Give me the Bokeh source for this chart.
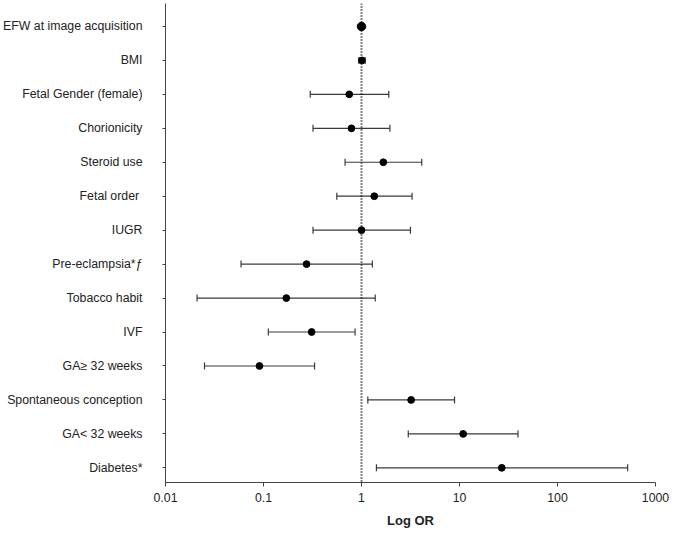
from bokeh.plotting import figure
from bokeh.models import (ColumnDataSource, Whisker, TeeHead, Span, FixedTicker,
                          CustomJSTickFormatter, Range1d)
from bokeh.embed import file_html
from bokeh.resources import INLINE

categories = ["EFW at image acquisition", "BMI", "Fetal Gender (female)", "Chorionicity",
              "Steroid use", "Fetal order ", "IUGR", "Pre-eclampsia*\u0192", "Tobacco habit",
              "IVF", "GA\u2265 32 weeks", "Spontaneous conception", "GA< 32 weeks", "Diabetes*"]
odds_ratio = [1.00, 1.01, 0.75, 0.79, 1.67, 1.35, 1.00, 0.275, 0.171, 0.31, 0.091, 3.21, 10.9, 27.0]
ci_low = [0.99, 0.94, 0.30, 0.32, 0.68, 0.56, 0.32, 0.059, 0.021, 0.112, 0.025, 1.16, 3.0, 1.42]
ci_high = [1.01, 1.09, 1.90, 1.95, 4.12, 3.28, 3.16, 1.29, 1.38, 0.86, 0.332, 8.9, 39.5, 520.0]
x_ticks = [0.01, 0.1, 1, 10, 100, 1000]

n = len(categories)
ypos = [n - i for i in range(n)]
sizes = [8.5 if i == 0 else 6.8 for i in range(n)]

FONT = "Liberation Sans"
INK = "#222222"

p = figure(width=669, height=530, x_axis_type="log",
           x_range=Range1d(0.01, 1000), y_range=Range1d(0.568, 14.676),
           output_backend="svg", toolbar_location=None,
           min_border_left=164, min_border_right=14, min_border_top=3, min_border_bottom=47)
p.outline_line_color = None
p.xgrid.visible = False
p.ygrid.visible = False
p.background_fill_color = "white"
p.border_fill_color = "white"

src = ColumnDataSource(dict(y=ypos, x=odds_ratio, lo=ci_low, hi=ci_high, s=sizes))

w = Whisker(source=src, base="y", lower="lo", upper="hi", dimension="width",
            line_color="#3a3a3a", line_width=1.2,
            lower_head=TeeHead(size=7, line_color="#3a3a3a", line_width=1.2),
            upper_head=TeeHead(size=7, line_color="#3a3a3a", line_width=1.2))
p.add_layout(w)

p.add_layout(Span(location=1, dimension="height", line_color="black",
                  line_width=2, line_dash="1 2"))

p.scatter("x", "y", size="s", source=src, fill_color="black", line_color="black")

# x axis
xa = p.xaxis[0]
xa.ticker = FixedTicker(ticks=x_ticks, minor_ticks=[])
xa.formatter = CustomJSTickFormatter(code="return String(tick);")
xa.axis_label = "Log OR"
xa.axis_label_text_font = FONT
xa.axis_label_text_font_style = "bold"
xa.axis_label_text_font_size = "13px"
xa.axis_label_text_color = INK
xa.axis_label_standoff = 8
xa.major_label_text_font = FONT
xa.major_label_text_font_size = "12.3px"
xa.major_label_text_color = INK
xa.major_label_standoff = 6
xa.major_tick_out = 4
xa.major_tick_in = 0
xa.minor_tick_out = 0
xa.minor_tick_in = 0
xa.axis_line_color = "#444444"
xa.major_tick_line_color = "#444444"

# y axis
ya = p.yaxis[0]
ya.ticker = FixedTicker(ticks=ypos, minor_ticks=[])
ya.major_label_overrides = {y: c for y, c in zip(ypos, categories)}
ya.major_label_text_font = FONT
ya.major_label_text_font_size = "12.3px"
ya.major_label_text_color = INK
ya.major_label_standoff = 20
ya.major_tick_out = 3
ya.major_tick_in = 0
ya.minor_tick_out = 0
ya.minor_tick_in = 0
ya.axis_line_color = "#444444"
ya.major_tick_line_color = "#444444"

open("out.html", "w").write(file_html(p, INLINE))
